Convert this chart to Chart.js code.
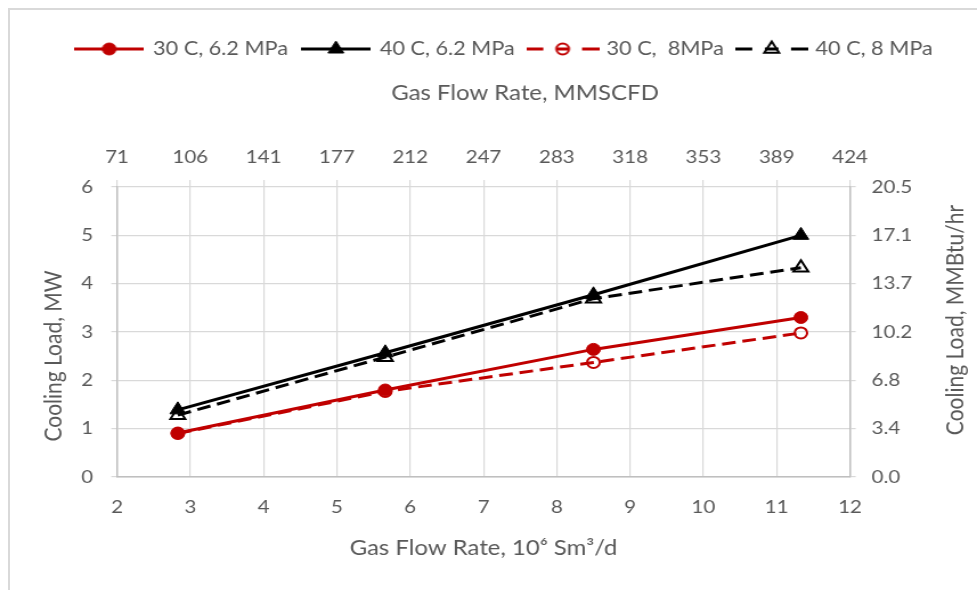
<!DOCTYPE html>
<html><head><meta charset="utf-8">
<script src="https://cdn.jsdelivr.net/npm/chart.js@4"></script>
<style>
html,body{margin:0;padding:0;background:#fff;overflow:hidden;}
#frame{position:absolute;left:8px;top:8px;width:1200px;height:800px;border-left:2px solid #d9d9d9;border-top:2px solid #d9d9d9;}
#wrap{position:absolute;left:0;top:0;width:857px;height:590px;transform:scaleX(1.14002);transform-origin:0 0;}
</style></head><body>
<div id="frame"></div>
<div id="wrap"><canvas id="c"></canvas></div>
<script>
// ---- data ----
const flowRate = [2.83, 5.66, 8.50, 11.33];          // 10^6 Sm3/d
const load30C62 = [0.91, 1.80, 2.64, 3.30];          // MW
const load40C62 = [1.39, 2.57, 3.77, 5.00];
const load30C8  = [0.90, 1.77, 2.37, 2.98];
const load40C8  = [1.28, 2.48, 3.69, 4.33];
const seriesLabels = ['30 C, 6.2 MPa', '40 C, 6.2 MPa', '30 C,  8MPa', '40 C, 8 MPa'];
const topTickLabels = ['71','106','141','177','212','247','283','318','353','389','424'];
const rightTickLabels = ['0.0','3.4','6.8','10.2','13.7','17.1','20.5'];
const bottomTitle = 'Gas Flow Rate, 10\u2076 Sm\u00b3/d';
const topTitle = 'Gas Flow Rate, MMSCFD';
const leftTitle = 'Cooling Load, MW';
const rightTitle = 'Cooling Load, MMBtu/hr';

const RED = '#c00000', BLACK = '#000000', TXT = '#595959', GRID = '#d9d9d9', AXIS = '#bfbfbf';
const FONT = 'Lato';

function pts(ys){ return flowRate.map((x,i)=>({x:x, y:ys[i]})); }

const datasets = [
  {label: seriesLabels[0], data: pts(load30C62), borderColor: RED, borderWidth: 3,
   pointStyle: 'circle', pointRadius: 6, pointBackgroundColor: RED, pointBorderColor: RED, pointBorderWidth: 1},
  {label: seriesLabels[1], data: pts(load40C62), borderColor: BLACK, borderWidth: 3,
   pointStyle: 'triangle', pointRadius: 8, pointBackgroundColor: BLACK, pointBorderColor: BLACK, pointBorderWidth: 1},
  {label: seriesLabels[2], data: pts(load30C8), borderColor: RED, borderWidth: 3, borderDash: [12,6],
   pointStyle: 'circle', pointRadius: 5.5, pointBackgroundColor: 'rgba(0,0,0,0)', pointBorderColor: RED, pointBorderWidth: 2},
  {label: seriesLabels[3], data: pts(load40C8), borderColor: BLACK, borderWidth: 3, borderDash: [12,6],
   pointStyle: 'triangle', pointRadius: 7.5, pointBackgroundColor: 'rgba(0,0,0,0)', pointBorderColor: BLACK, pointBorderWidth: 2}
];
datasets.forEach(d => { d.fill = false; d.tension = 0; d.pointHoverRadius = d.pointRadius; });

function legendImage(ds){
  const dashed = ds.borderDash && ds.borderDash.length;
  const w = dashed ? 64 : 61, h = 22, cy = h/2;
  const c = document.createElement('canvas'); c.width = w; c.height = h;
  const g = c.getContext('2d');
  g.strokeStyle = ds.borderColor; g.lineWidth = ds.borderWidth; g.lineCap = 'butt';
  g.beginPath();
  if (dashed) {
    g.moveTo(0,cy); g.lineTo(15,cy);
    g.moveTo(w/2-6,cy); g.lineTo(w/2+6,cy);
    g.moveTo(w-15,cy); g.lineTo(w,cy);
  } else { g.moveTo(0,cy); g.lineTo(w,cy); }
  g.stroke();
  g.fillStyle = ds.pointBackgroundColor; g.strokeStyle = ds.pointBorderColor;
  g.lineWidth = ds.pointBorderWidth;
  Chart.helpers.drawPoint(g, {pointStyle: ds.pointStyle, radius: ds.pointRadius, rotation: 0, borderWidth: ds.pointBorderWidth}, w/2, cy);
  return c;
}

const tickFont = {family: FONT, size: 18};
const titleFont = {family: FONT, size: 21};

// axis titles that need Excel-like placement (reading upward on the right, offset top title)
const axisTitles = {
  id: 'axisTitles',
  afterLayout(chart) { chart.legend.left += 28; },
  afterDraw(chart) {
    const ctx = chart.ctx;
    ctx.save();
    ctx.fillStyle = TXT;
    ctx.font = `${titleFont.size}px ${FONT}`;
    ctx.textAlign = 'center'; ctx.textBaseline = 'middle';
    ctx.fillText(topTitle, 460.5, 93);
    ctx.save(); ctx.translate(47, 356); ctx.rotate(-Math.PI/2); ctx.fillText(leftTitle, 0, 0); ctx.restore();
    ctx.save(); ctx.translate(838.5, 320); ctx.rotate(-Math.PI/2); ctx.fillText(rightTitle, 0, 0); ctx.restore();
    ctx.restore();
  }
};

new Chart(document.getElementById('c'), {
  type: 'line',
  data: {datasets: datasets},
  plugins: [axisTitles],
  options: {
    responsive: true, maintainAspectRatio: false, animation: false,
    layout: {padding: {top: 26.5, left: 0, right: 0, bottom: 0}},
    plugins: {
      tooltip: {enabled: false},
      legend: {
        position: 'top',
        labels: {
          usePointStyle: true, pointStyleWidth: 58, padding: 13,
          color: TXT, font: {family: FONT, size: 19},
          generateLabels: (chart) => chart.data.datasets.map((ds, i) => ({
            text: ds.label, datasetIndex: i, hidden: false, fontColor: TXT,
            pointStyle: legendImage(ds), lineWidth: 0, strokeStyle: 'rgba(0,0,0,0)', fillStyle: 'rgba(0,0,0,0)'
          }))
        }
      }
    },
    scales: {
      x: {
        type: 'linear', position: 'bottom', min: 2, max: 12,
        afterFit: s => { s.height = 113; },
        ticks: {stepSize: 1, autoSkip: false, maxRotation: 0, color: TXT, font: tickFont, padding: 19},
        grid: {color: GRID, lineWidth: 1.2, drawTicks: false},
        border: {display: true, color: AXIS, width: 1.5},
        title: {display: true, text: bottomTitle, color: TXT, font: titleFont, padding: {top: 4, bottom: 29}}
      },
      x2: {
        type: 'linear', position: 'top', min: 2, max: 12,
        afterFit: s => { s.height = 118.5; },
        ticks: {stepSize: 1, autoSkip: false, maxRotation: 0, color: TXT, font: tickFont, padding: 12,
                callback: (v, i) => topTickLabels[i]},
        grid: {color: GRID, lineWidth: 1.2, drawOnChartArea: false, drawTicks: true, tickLength: 7},
        border: {display: false},
        title: {display: false, text: topTitle}
      },
      y: {
        type: 'linear', position: 'left', min: 0, max: 6,
        afterFit: s => { s.width = 102.6; },
        ticks: {stepSize: 1, color: TXT, font: tickFont, padding: 16},
        grid: {color: GRID, lineWidth: 1.2, drawTicks: true, tickLength: 5},
        border: {display: true, color: AXIS, width: 1.5},
        title: {display: false, text: leftTitle}
      },
      y2: {
        type: 'linear', position: 'right', min: 0, max: 6,
        afterFit: s => { s.width = 111.4; },
        ticks: {stepSize: 1, color: TXT, font: tickFont, padding: 14,
                callback: (v, i) => rightTickLabels[i]},
        grid: {color: GRID, lineWidth: 1.2, drawOnChartArea: false, drawTicks: true, tickLength: 5},
        border: {display: true, color: AXIS, width: 1.5},
        title: {display: false, text: rightTitle}
      }
    }
  }
});
</script>
</body></html>
